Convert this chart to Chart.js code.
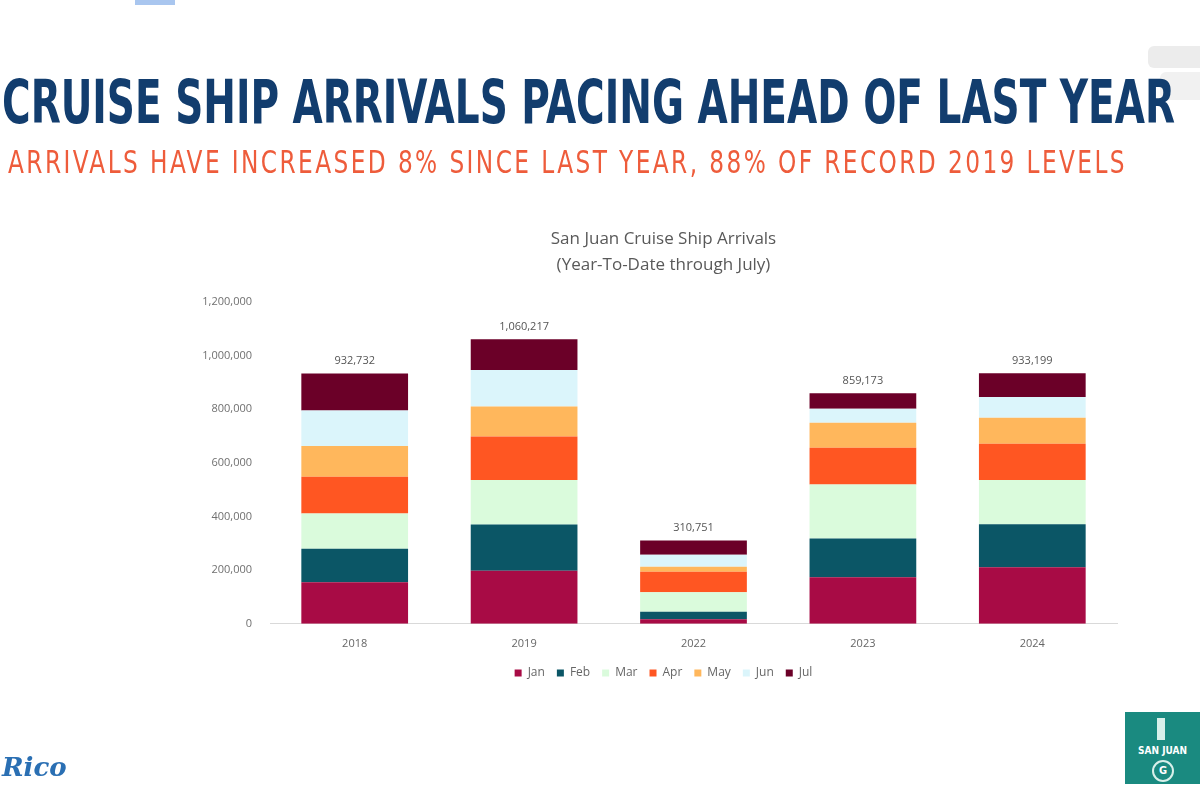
<!DOCTYPE html>
<html>
<head>
<meta charset="utf-8">
<script src="https://cdn.jsdelivr.net/npm/chart.js@4.4.1/dist/chart.umd.min.js"></script>
<style>
  html, body { margin: 0; padding: 0; background: #ffffff; }
  #wrap { position: relative; width: 1200px; height: 800px; overflow: hidden; background: #fff; }
  #chartBox { position: absolute; left: 0; top: 0; width: 1200px; height: 800px; }
  .hdr { position: absolute; white-space: nowrap; transform-origin: 0 0; }
  #h1 { left: 2px; top: 72px; font-family: "Liberation Sans Narrow", "DejaVu Sans Condensed", "Roboto", sans-serif; font-weight: 700; font-size: 60px; color: #123d6e; line-height: 1; }
  #h2 { left: 8px; top: 146px; font-family: "Liberation Sans Narrow", "DejaVu Sans Condensed", "Roboto", sans-serif; font-weight: 400; font-size: 32px; color: #ee5c3b; letter-spacing: 3px; line-height: 1; }
  #topblue { position: absolute; left: 135px; top: 0; width: 40px; height: 5px; background: #a9c6ef; }
  #topgray { position: absolute; left: 1148px; top: 46px; width: 60px; height: 22px; background: #ececec; border-radius: 6px; }
  #topgray2 { position: absolute; left: 1160px; top: 72px; width: 50px; height: 28px; background: #f1f1f1; border-radius: 6px; }
  #logoR { position: absolute; left: 1125px; top: 712px; width: 80px; height: 72px; background: #1a8a80; color: #fff; font-family: "DejaVu Sans Condensed", sans-serif; font-weight: 700; font-size: 10px; text-align: center; }
  #logoR .t { position: absolute; top: 33px; left: 0; width: 75px; }
  #logoR .g { position: absolute; top: 48px; left: 27px; width: 18px; height: 18px; border: 2px solid #d8f0ea; border-radius: 50%; font-size: 11px; line-height: 18px; }
  #logoR .tw { position: absolute; top: 6px; left: 32px; width: 8px; height: 22px; background: #d8f0ea; }
  #logoL { position: absolute; left: 2px; top: 752px; font-family: "DejaVu Serif", serif; font-style: italic; font-weight: 700; font-size: 26px; color: #2a6fb3; }
</style>
</head>
<body>
<div id="wrap">
  <div id="topblue"></div>
  <div id="topgray"></div>
  <div id="topgray2"></div>
  <div id="chartBox"><canvas id="c" width="1200" height="800"></canvas></div>
  <div class="hdr" id="h1">CRUISE SHIP ARRIVALS PACING AHEAD OF LAST YEAR</div>
  <div class="hdr" id="h2">ARRIVALS HAVE INCREASED 8% SINCE LAST YEAR, 88% OF RECORD 2019 LEVELS</div>
  <div id="logoR"><div class="tw"></div><div class="t">SAN JUAN</div><div class="g">G</div></div>
  <div id="logoL">Rico</div>
</div>
<script>
// ---- data ----
const years = ["2018", "2019", "2022", "2023", "2024"];
const monthNames = ["Jan", "Feb", "Mar", "Apr", "May", "Jun", "Jul"];
const jan = [155000, 198000, 17000, 173000, 211000];
const feb = [125000, 172000, 28000, 145000, 160000];
const mar = [131000, 166000, 73000, 201000, 165000];
const apr = [137000, 162000, 76000, 137000, 135000];
const may = [114000, 112000, 19000, 93000, 97000];
const jun = [133000, 136000, 44000, 52000, 77000];
const jul = [137732, 114217, 53751, 58173, 88199];
const yTicks = [0, 200000, 400000, 600000, 800000, 1000000, 1200000];
const monthColors = ["#a80b45", "#0b5666", "#dafbdc", "#ff5622", "#ffb75c", "#dbf5fb", "#6b0028"];

const series = [jan, feb, mar, apr, may, jun, jul];

// ---- header fitting ----
function fit(id, width) {
  const el = document.getElementById(id);
  const w = el.getBoundingClientRect().width;
  el.style.transform = "scaleX(" + (width / w) + ")";
}
fit("h1", 1173);
fit("h2", 1119);

// ---- totals plugin ----
const totalsPlugin = {
  id: "totals",
  afterDatasetsDraw(chart) {
    const ctx = chart.ctx;
    const last = chart.getDatasetMeta(chart.data.datasets.length - 1);
    ctx.save();
    ctx.font = "11px 'Open Sans', sans-serif";
    ctx.fillStyle = "#555555";
    ctx.textAlign = "center";
    ctx.textBaseline = "bottom";
    years.forEach((y, i) => {
      let total = 0;
      series.forEach(s => total += s[i]);
      const el = last.data[i];
      ctx.fillText(total.toLocaleString("en-US"), el.x, el.y - 7);
    });
    ctx.restore();
  }
};

new Chart(document.getElementById("c"), {
  type: "bar",
  data: {
    labels: years,
    datasets: series.map((s, k) => ({
      label: monthNames[k],
      data: s,
      backgroundColor: monthColors[k],
      borderWidth: 0,
      categoryPercentage: 1.0,
      barPercentage: 0.63
    }))
  },
  options: {
    responsive: false,
    animation: false,
    layout: { padding: { left: 210, right: 83, top: 216, bottom: 111 } },
    plugins: {
      title: {
        display: true,
        text: ["San Juan Cruise Ship Arrivals", "(Year-To-Date through July)"],
        color: "#595959",
        font: { family: "'Open Sans', sans-serif", size: 17, weight: "normal", lineHeight: 1.55 },
        padding: { top: 10, bottom: 23 }
      },
      legend: {
        position: "bottom",
        labels: {
          usePointStyle: true,
          pointStyle: "rect",
          boxWidth: 7,
          boxHeight: 7,
          padding: 12,
          color: "#666666",
          font: { family: "'Open Sans', sans-serif", size: 12 }
        }
      },
      tooltip: { enabled: false }
    },
    scales: {
      x: {
        stacked: true,
        grid: { display: false },
        border: { display: true, color: "#d9d9d9", width: 1 },
        ticks: { color: "#666666", font: { family: "'Open Sans', sans-serif", size: 11 }, padding: 5 }
      },
      y: {
        stacked: true,
        min: 0,
        max: 1200000,
        afterFit(scale) { scale.width = 60; },
        afterUpdate(scale) { scale._computeLabelArea = function () { return undefined; }; },
        afterBuildTicks(scale) { scale.ticks = yTicks.map(v => ({ value: v })); },
        grid: { display: false },
        border: { display: false },
        ticks: {
          color: "#707070",
          font: { family: "'Open Sans', sans-serif", size: 11 },
          padding: 10,
          callback: v => Number(v).toLocaleString("en-US")
        }
      }
    }
  },
  plugins: [totalsPlugin]
});
</script>
</body>
</html>
